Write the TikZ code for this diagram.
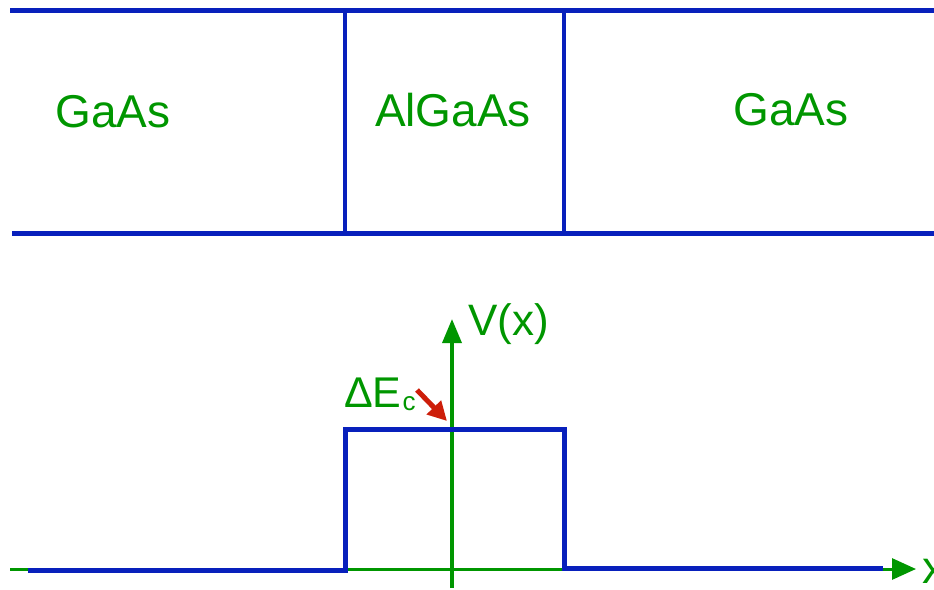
\documentclass[tikz,border=0pt]{standalone}
\usepackage{fontspec}
\setmainfont{Liberation Sans}
\usetikzlibrary{arrows.meta, math}
\definecolor{myblue}{RGB}{8,32,188}
\definecolor{mygreen}{RGB}{0,150,0}
\definecolor{myred}{RGB}{205,30,10}

\begin{document}
\begin{tikzpicture}[x=1pt,y=-1pt]
\tikzmath{
\xl=345;
\xr=564;
\yt=10;
\yb=233;
\yo=569;
\yh=429;
\xa=452;
}
\useasboundingbox (0,0) rectangle (934,589);
\tikzset{
  layer/.style={myblue, line width=5pt},
  wall/.style={myblue, line width=4pt},
  lbl/.style={mygreen, inner sep=0pt, font=\fontsize{46}{50}\selectfont},
}

%%%%%%%%%%  layers
\draw[layer] (10,\yt) -- (934,\yt);
\draw[layer] (12,\yb) -- (934,\yb);
\draw[wall] (\xl,\yt) -- (\xl,\yb);
\draw[wall] (\xr,\yt) -- (\xr,\yb);
\node[lbl] (gaasl) at (113,112) {GaAs};
\node[lbl] (algaas) at (453,110) {AlGaAs};
\node[lbl] (gaasr) at (791,110) {GaAs};

%%%%%%%%%%  potential
\coordinate (xs) at (10,\yo);
\coordinate (xe) at (916,\yo);
\coordinate (vs) at (\xa,588);
\coordinate (ve) at (\xa,319);
\draw[mygreen, line width=3pt, -{Triangle[length=24pt,width=21pt]}] (xs) -- (xe);
\draw[mygreen, line width=3.5pt, -{Triangle[length=24pt,width=19pt]}] (vs) -- (ve);
\node[lbl, anchor=west] (xlab) at (922,571) {x};
\node[lbl, anchor=west, font=\fontsize{44}{48}\selectfont] (vlab) at (468,324) {V(x)};

\draw[myblue, line width=5pt] (28,570) -- (\xl,570) -- (\xl,\yh) -- (\xr,\yh) -- (\xr,568) -- (883,568);

\node[lbl, anchor=base west, font=\fontsize{43}{46}\selectfont] (dec) at (344,407)
  {ΔE\kern1pt\raisebox{-0.14ex}{\fontsize{26}{26}\selectfont c}};
\coordinate (dtail) at (417,390);
\coordinate (dtip) at (447,421);
\draw[myred, line width=5pt, -{Triangle[length=19pt,width=19pt]}] (dtail) -- (dtip);
\end{tikzpicture}
\end{document}
